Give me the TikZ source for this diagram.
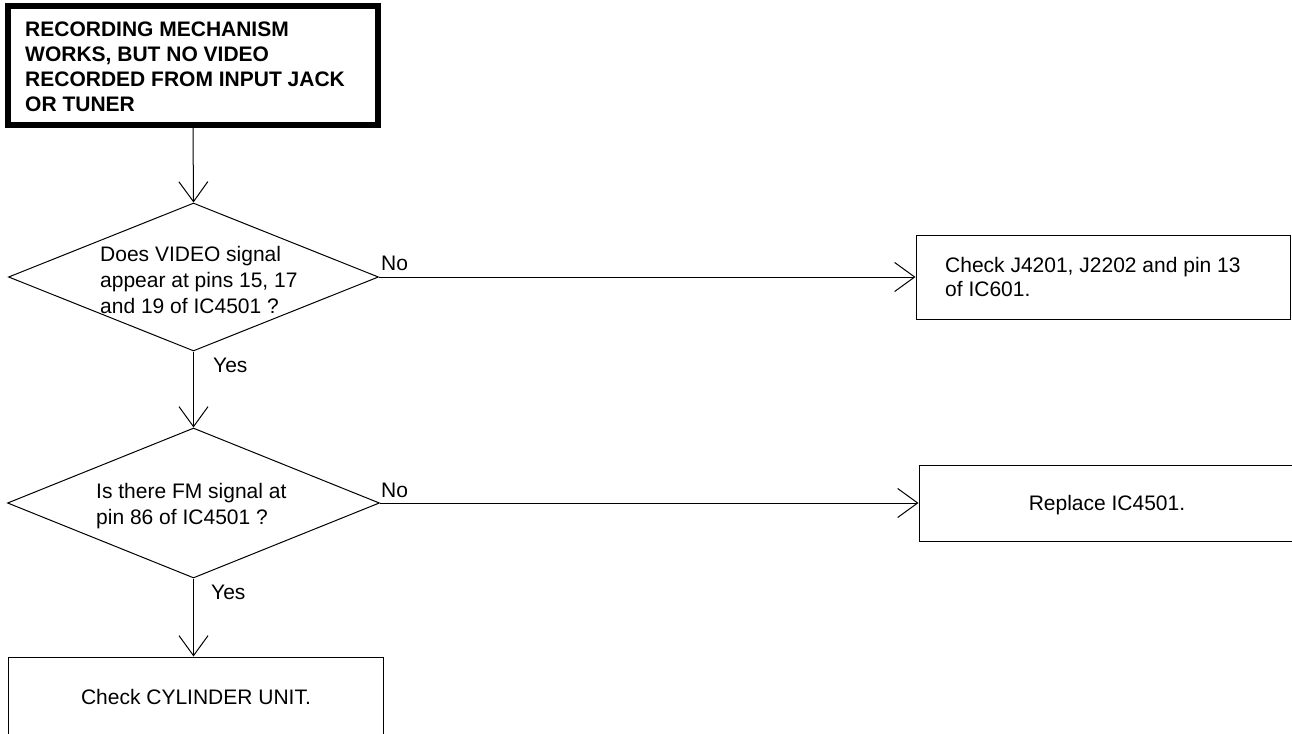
\documentclass[tikz,border=0pt]{standalone}
\usepackage{fontspec}
\setmainfont{Liberation Sans}
\usetikzlibrary{shapes.geometric,arrows.meta}
\begin{document}
\begin{tikzpicture}[x=1pt,y=-1pt,
  box/.style={draw, line width=1pt, inner sep=0pt, rectangle},
  dia/.style={draw, diamond, line width=1pt, inner sep=0pt, aspect=2.5},
  txt/.style={inner sep=0pt, align=left, font=\fontsize{21}{26}\selectfont},
  lbl/.style={inner sep=0pt, font=\fontsize{21}{25}\selectfont},
  conn/.style={line width=1pt, -{Straight Barb[length=20pt,width=29pt,line width=1pt]}}
]
\useasboundingbox (0,0) rectangle (1292,733);
\clip (0,0) rectangle (1292,733);

\node[box, line width=6pt, minimum width=370pt, minimum height=119pt] (start) at (193,65.5) {};
\node[txt, font=\fontsize{21}{25}\selectfont\bfseries, anchor=west] (starttxt) at (25,67)
  {RECORDING MECHANISM\\WORKS, BUT NO VIDEO\\RECORDED FROM INPUT JACK\\OR TUNER};

\node[dia, minimum width=370pt, minimum height=148pt] (d1) at (193.5,277) {};
\node[txt, anchor=west] (d1txt) at (100,280)
  {Does VIDEO signal\\appear at pins 15, 17\\and 19 of IC4501 ?};

\node[box, minimum width=374pt, minimum height=84pt] (b1) at (1103,277) {};
\node[txt, anchor=west, font=\fontsize{21}{24}\selectfont] (b1txt) at (945,277)
  {Check J4201, J2202 and pin 13\\of IC601.};

\node[dia, minimum width=372pt, minimum height=150pt] (d2) at (193.5,503) {};
\node[txt, anchor=west] (d2txt) at (96,506)
  {Is there FM signal at\\pin 86 of IC4501 ?};

\node[box, minimum width=376pt, minimum height=76pt] (b2) at (1107,503) {};
\node[lbl, anchor=base] (b2txt) at (1107,510.5) {Replace IC4501.};

\node[box, minimum width=375pt, minimum height=80pt] (b3) at (195.5,697) {};
\node[lbl, anchor=base] (b3txt) at (196,704.5) {Check CYLINDER UNIT.};

\draw[conn] (start.south) -- (d1.north);
\draw[conn] (d1.south) -- (d2.north);
\draw[conn] (d1.east) -- (b1.west);
\draw[conn] (d2.east) -- (b2.west);
\draw[conn] (d2.south) -- (d2.south |- b3.north);

\node[lbl, anchor=base west] (no1) at (381,270) {No};
\node[lbl, anchor=base west] (no2) at (381,497) {No};
\node[lbl, anchor=base west] (yes1) at (213,372) {Yes};
\node[lbl, anchor=base west] (yes2) at (211,599) {Yes};
\end{tikzpicture}
\end{document}
